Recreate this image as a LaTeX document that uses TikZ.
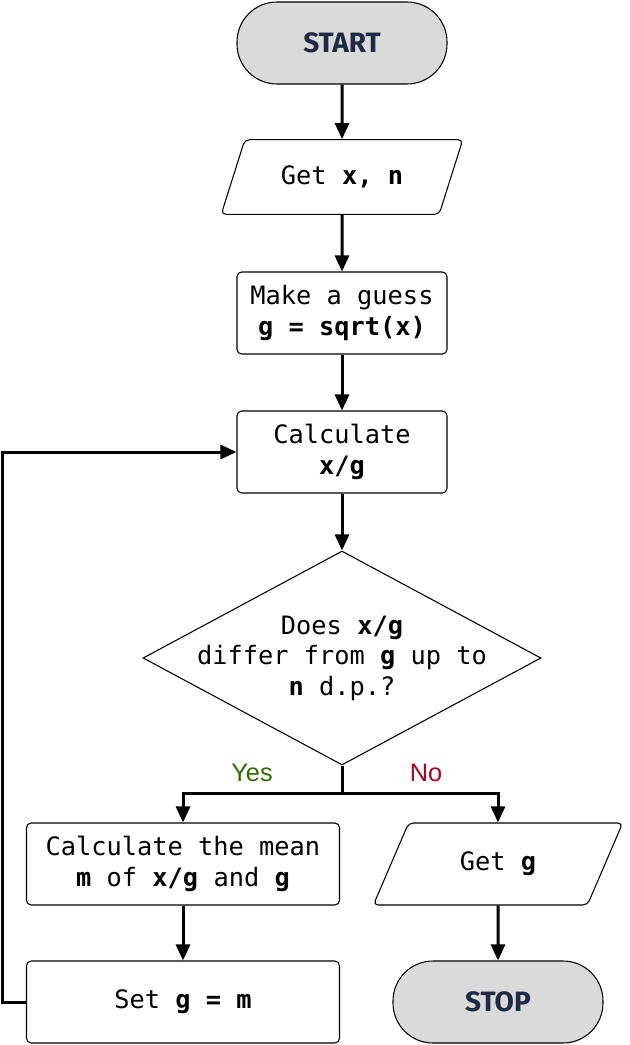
\documentclass[tikz,border=0pt]{standalone}
\usepackage{fontspec}
\setmonofont{DejaVu Sans Mono}
\newfontfamily\termfont{Fira Sans}
\newfontfamily\labelfont{Liberation Sans}
\usepackage{tikz}
\usetikzlibrary{arrows.meta, shapes.geometric}

\definecolor{termfill}{HTML}{DADADA}
\definecolor{termtext}{HTML}{1F2A44}
\definecolor{yescol}{HTML}{2E6B00}
\definecolor{nocol}{HTML}{B0001E}

\begin{document}
\begin{tikzpicture}[x=0.75pt, y=-0.75pt,
        every node/.style={font=\ttfamily\fontsize{19}{22.8}\selectfont, align=center},
        terminal/.style={draw, line width=0.8pt, fill=termfill, rounded corners=30pt,
            minimum width=157.5pt, minimum height=61.5pt,
            font=\termfont\bfseries\fontsize{21}{24}\selectfont, text=termtext},
        process/.style={draw, line width=0.8pt, rounded corners=3.5pt,
            minimum width=157.5pt, minimum height=61.5pt},
        io/.style={draw, line width=0.8pt, trapezium, trapezium left angle=63,
            trapezium right angle=117, trapezium stretches=true, rounded corners=3.5pt,
            minimum width=181.5pt, minimum height=56pt},
        decision/.style={draw, line width=0.8pt, diamond, aspect=1.86,
            minimum width=298.5pt, minimum height=160.5pt, inner sep=0pt},
        flow/.style={line width=2.25pt, -{Triangle[length=12pt, width=10.5pt]}},
        branch/.style={line width=2.25pt}]
        \useasboundingbox (0,0) rectangle (629,1045);

        % Main column
        \node[terminal] (start) at (342,43) {START};
        \node[io] (getxn) at (342,177) {Get \textbf{x, n}};
        \node[process] (guess) at (342,313) {Make a guess\\\textbf{g = sqrt(x)}};
        \node[process] (calc) at (342,452) {Calculate\\\textbf{x/g}};
        \node[decision, label={[align=center]center:{Does \textbf{x/g}\\differ from \textbf{g} up to\\\textbf{n} d.p.?}}] (check) at (342,658) {};

        % Yes branch
        \node[process, minimum width=234.75pt] (mean) at (183,864) {Calculate the mean\\\textbf{m} of \textbf{x/g} and \textbf{g}};
        \node[process, minimum width=234.75pt] (setg) at (183,1002) {Set \textbf{g = m}};

        % No branch
        \node[io, minimum width=187.5pt, minimum height=61.5pt] (getg) at (498,864) {Get \textbf{g}};
        \node[terminal] (stop) at (498,1002) {STOP};

        % Arrows down the main column
        \draw[flow] (start) -- (getxn);
        \draw[flow] (getxn) -- (guess);
        \draw[flow] (guess) -- (calc);
        \draw[flow] (calc) -- (check);

        % Split after the decision
        \coordinate (split) at (342,793);
        \draw[branch] (check.south) -- (split);
        \draw[flow] (split) -| (mean.north);
        \draw[flow] (split) -| (getg.north);
        \node[font=\labelfont\fontsize{19}{22}\selectfont, text=yescol] (yes) at (252,773) {Yes};
        \node[font=\labelfont\fontsize{19}{22}\selectfont, text=nocol] (no) at (426,773) {No};

        \draw[flow] (mean) -- (setg);
        \draw[flow] (getg) -- (stop);

        % Loop back
        \draw[flow] (setg.west) -- ++(-23,0) |- (calc.west);

    \end{tikzpicture}
\end{document}
